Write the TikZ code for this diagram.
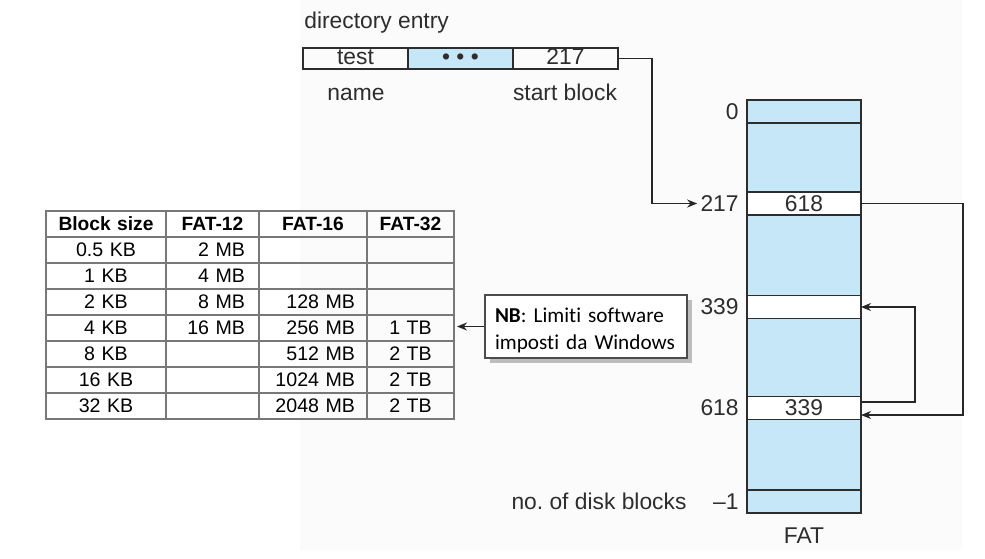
\documentclass[tikz,border=0pt]{standalone}
\usepackage{fontspec}
\setmainfont{Liberation Sans}
\newfontfamily\nbfont[Ligatures=NoCommon]{Carlito}
\usepackage{xcolor}
\usepackage{tikz}
\usetikzlibrary{positioning,calc,matrix,arrows.meta,shadows}

\definecolor{fatblue}{RGB}{198,231,247}
\definecolor{inkgray}{RGB}{45,45,45}
\definecolor{gridgray}{RGB}{120,120,120}

\begin{document}
\begin{tikzpicture}[x=0.5pt, y=-0.5pt,
                cell/.style={draw=inkgray, line width=0.8pt, inner sep=0pt, outer sep=0pt, minimum width=57pt, minimum height=11.5pt, font=\fontsize{11.4}{13}\selectfont, text=inkgray},
                entry/.style={cell, minimum width=52.5pt, minimum height=10.5pt, text height=8pt, text depth=2.5pt},
                num/.style={inner sep=0pt, font=\fontsize{11.4}{13}\selectfont, text=inkgray},
                link/.style={draw=black!85, line width=0.9pt, -{Stealth[length=5pt, width=4pt]}},
                tabcell/.style={draw=gridgray, line width=0.6pt, inner ysep=0pt, outer sep=0pt, minimum height=13pt, anchor=center, font=\fontsize{9.8}{11}\selectfont}
            ]
                \useasboundingbox (0,0) rectangle (985,558);
                \fill[black!1.5] (300,0) rectangle (962,550);

                % --- DIRECTORY ENTRY ---
                \node[num, anchor=base west] (ldir) at (304,28) {directory entry};
                \node[entry] (dtest) at (355.5,58.5) {test};
                \node[entry, fill=fatblue, right=0pt of dtest] (ddots) {\textbullet\ \textbullet\ \textbullet};
                \node[entry, right=0pt of ddots] (dstart) {217};
                \node[num, anchor=base] (lname) at (356,100) {name};
                \node[num, anchor=base] (lstart) at (565,100) {start block};

                % --- FAT ---
                \node[cell, fill=fatblue, minimum height=206.5pt] (fat) at (804,306.5) {};
                \node[cell, fill=fatblue] (r0) at (804,111.5) {};
                \node[cell, fill=white] (r217) at (804,203.5) {618};
                \node[cell, fill=white] (r339) at (804,307) {};
                \node[cell, fill=white] (r618) at (804,408) {339};
                \node[cell, fill=fatblue] (rend) at (804,501.5) {};

                \node[num, anchor=east] (l0) at (739,111.5) {0};
                \node[num, anchor=east] (l217) at (739,203.5) {217};
                \node[num, anchor=east] (l339) at (739,307) {339};
                \node[num, anchor=east] (l618) at (739,408) {618};
                \node[num, anchor=east] (lend) at (739,501.5) {\textendash1};
                \node[num, left=13pt of lend] (lblocks) {no.\ of disk blocks};
                \node[num, below=7pt of fat] (lfat) {FAT};

                \draw[link] (dstart.east) -- ++(17pt,0) |- ([xshift=-1.5pt]l217.west);
                \draw[link] (r217.east) -- ++(51pt,0) |- ([yshift=-3.5pt]r618.east);
                \draw[link] ([yshift=3pt]r618.east) -- ++(27pt,0) |- (r339.east);

                % --- TABELLA ---
                \matrix (tab) [matrix of nodes, nodes in empty cells, anchor=north west, inner sep=0pt,
                    column sep=-0.6pt, row sep=-0.6pt, nodes={tabcell},
                    column 1/.style={nodes={text width=54pt, inner xsep=3pt, align=center}},
                    column 2/.style={nodes={text width=32.5pt, inner xsep=7pt, align=right}},
                    column 3/.style={nodes={text width=42pt, inner xsep=6pt, align=right}},
                    column 4/.style={nodes={text width=35.5pt, inner xsep=4pt, align=center}},
                    row 1/.style={nodes={font=\fontsize{9.6}{11}\selectfont\bfseries, align=center}}
                ] at (45,210) {
                    Block size & FAT-12 & FAT-16 & FAT-32 \\
                    0.5 KB & 2 MB & & \\
                    1 KB & 4 MB & & \\
                    2 KB & 8 MB & 128 MB & \\
                    4 KB & 16 MB & 256 MB & 1 TB \\
                    8 KB & & 512 MB & 2 TB \\
                    16 KB & & 1024 MB & 2 TB \\
                    32 KB & & 2048 MB & 2 TB \\
                };

                % --- NB ---
                \node[draw=black!70, fill=white, line width=0.6pt,
                      drop shadow={shadow xshift=2.5pt, shadow yshift=-2.5pt, opacity=0.35, fill=black!70},
                      text width=91pt, inner xsep=5pt, inner ysep=0pt, minimum height=31.5pt, align=left,
                      font=\nbfont\fontsize{10.6}{13.5}\selectfont] (nb) at (586,326.5)
                      {\rule{0pt}{11.5pt}\textbf{NB}: Limiti software\\imposti da Windows};
                \draw[link] (nb.west) -- ([xshift=1pt]nb.west -| tab.east);

            \end{tikzpicture}
\end{document}
